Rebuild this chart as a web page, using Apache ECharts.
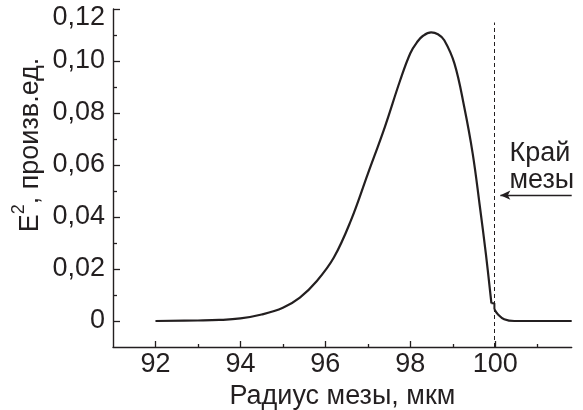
<!DOCTYPE html>
<html><head><meta charset="utf-8">
<script src="https://cdn.jsdelivr.net/npm/echarts@6/dist/echarts.min.js"></script>
<style>html,body{margin:0;padding:0;background:#fff}#c{width:583px;height:410px}</style>
</head><body><div id="c"></div>
<script>
// ---- data ----
const curveX = [92, 93, 93.5, 94, 94.5, 95, 95.4, 95.8, 96.2, 96.6, 97.0, 97.4, 97.76, 98.0, 98.16, 98.3, 98.49, 98.65, 98.8, 99.04, 99.27, 99.47, 99.63, 99.78, 99.91];
const curveY = [0, 0.0002, 0.0004, 0.001, 0.0025, 0.0051, 0.009, 0.0154, 0.0244, 0.0386, 0.0566, 0.0746, 0.0925, 0.103, 0.1073, 0.1097, 0.111, 0.1103, 0.108, 0.099, 0.0823, 0.0643, 0.045, 0.0257, 0.0068];
const stepX = [99.91, 99.98, 99.98];
const stepY = [0.0068, 0.0068, 0.0045];
const tailX = [99.98, 100.06, 100.21, 100.45, 101.8];
const tailY = [0.0045, 0.0026, 0.0007, 0, 0];
const xMajorTicks = [92, 94, 96, 98, 100];
const xMinorTicks = [93, 95, 97, 99, 101];
const yMajorTicks = [0, 0.02, 0.04, 0.06, 0.08, 0.10, 0.12];
const yMinorTicks = [0.01, 0.03, 0.05, 0.07, 0.09, 0.11];
const edgeX = 99.97;
const edgeTop = 0.1148;
const arrowY = 0.0484;
const arrowFrom = 101.8;
const arrowTo = 100.12;
const xName = 'Радиус мезы, мкм';
const yNameMain = ', произв.ед.';
const edgeLabel = ['Край', 'мезы'];

const ink = '#231f20';
const font = 'Liberation Sans';
const fs = 27;
const zip = (a, b) => a.map((v, i) => [v, b[i]]);

const chart = echarts.init(document.getElementById('c'), null, {renderer: 'canvas'});
const axLine = {show: true, onZero: false, lineStyle: {color: ink, width: 1.4}};
chart.setOption({
  animation: false,
  backgroundColor: '#fff',
  grid: {left: 113, right: 11.3, top: 9, bottom: 63, outerBoundsMode: 'none'},
  xAxis: [{
    type: 'value', min: 91, max: 101.8, position: 'bottom',
    axisLine: axLine,
    axisTick: {show: true, inside: true, length: 6, customValues: xMajorTicks, lineStyle: {color: ink, width: 1.3}},
    axisLabel: {customValues: xMajorTicks, fontSize: fs, color: ink, margin: 4, fontFamily: font},
    splitLine: {show: false},
    name: xName, nameLocation: 'middle', nameGap: 33,
    nameTextStyle: {fontSize: fs, color: ink, fontFamily: font}
  }, {
    type: 'value', min: 91, max: 101.8, position: 'bottom', offset: 0,
    axisLine: {show: false, onZero: false},
    axisTick: {show: true, inside: true, length: 3, customValues: xMinorTicks, lineStyle: {color: ink, width: 1.3}},
    axisLabel: {show: false}, splitLine: {show: false}
  }],
  yAxis: [{
    type: 'value', min: -0.01, max: 0.12, position: 'left',
    axisLine: axLine,
    axisTick: {show: true, inside: true, length: 7, customValues: yMajorTicks, lineStyle: {color: ink, width: 1.3}},
    axisLabel: {
      customValues: yMajorTicks, fontSize: fs, color: ink, margin: 8, fontFamily: font,
      formatter: v => {
        const s = Math.abs(v) < 1e-9 ? '0' : v.toFixed(2).replace('.', ',');
        return Math.abs(v - 0.12) < 1e-9 ? '{t|' + s + '}' : s;
      },
      rich: {t: {fontSize: fs, color: ink, fontFamily: font, padding: [17, 0, 0, 0]}}
    },
    splitLine: {show: false}
  }, {
    type: 'value', min: -0.01, max: 0.12, position: 'left', offset: 0,
    axisLine: {show: false, onZero: false},
    axisTick: {show: true, inside: true, length: 4, customValues: yMinorTicks, lineStyle: {color: ink, width: 1.3}},
    axisLabel: {show: false}, splitLine: {show: false}
  }],
  series: [{
    type: 'line', xAxisIndex: 0, yAxisIndex: 0, data: zip(curveX, curveY),
    smooth: 0.4, showSymbol: false, lineStyle: {color: ink, width: 2.2},
    markLine: {
      silent: true, symbol: ['none', 'none'], label: {show: false}, animation: false,
      data: [
        [{coord: [edgeX, -0.01], lineStyle: {type: [4, 3], width: 1, color: ink}}, {coord: [edgeX, edgeTop]}],
        [{coord: [arrowFrom, arrowY], symbol: 'none', lineStyle: {type: 'solid', width: 1.3, color: ink}},
         {coord: [arrowTo, arrowY], symbol: 'arrow', symbolSize: [7, 10]}]
      ]
    }
  }, {
    type: 'line', data: zip(stepX, stepY), smooth: false, showSymbol: false,
    lineStyle: {color: ink, width: 2}
  }, {
    type: 'line', data: zip(tailX, tailY), smooth: 0.4, showSymbol: false,
    lineStyle: {color: ink, width: 2.2}
  }],
  graphic: [{
    type: 'text', x: 31, y: 145, rotation: Math.PI / 2,
    style: {
      text: '{b|E}{s|2}{b|' + yNameMain + '}',
      align: 'center', verticalAlign: 'middle', fill: ink,
      rich: {
        b: {fontSize: fs, lineHeight: fs, fontFamily: font, verticalAlign: 'bottom', fill: ink},
        s: {fontSize: 18, lineHeight: 18, fontFamily: font, verticalAlign: 'bottom', padding: [0, 0, 16, 0], fill: ink}
      }
    }
  }, {
    type: 'text', x: 509.5, y: 140.3,
    style: {text: edgeLabel.join('\n'), fontSize: fs, lineHeight: 27, fontFamily: font, fill: ink, align: 'left', verticalAlign: 'top'}
  }]
});
</script></body></html>
